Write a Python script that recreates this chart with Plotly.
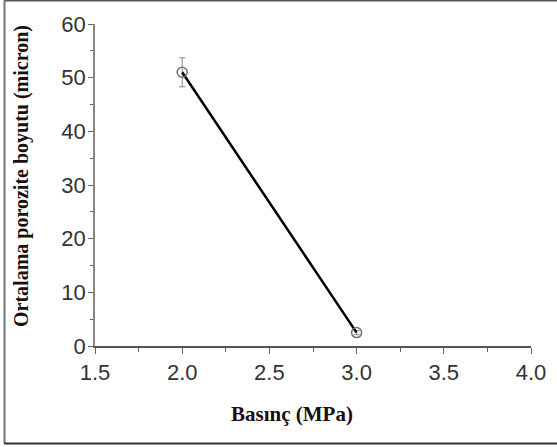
import plotly.graph_objects as go

pressure = [2.0, 3.0]
pore_size = [51.0, 2.5]
pore_err = [2.7, 0.4]
x_title = "Basınç (MPa)"
y_title = "Ortalama porozite boyutu (micron)"

W, H = 557, 447
L, R, T, B = 95, 26, 24, 101
pw, ph = W - L - R, H - T - B

def px(xp):
    return (xp - L) / pw

def py(yp):
    return (H - B - yp) / ph

fig = go.Figure()
fig.add_trace(go.Scatter(
    x=pressure, y=pore_size,
    mode="lines+markers",
    line=dict(color="black", width=2.5),
    marker=dict(symbol="circle-open", size=10, color="#6f6f6f", line=dict(width=1.5)),
    error_y=dict(type="data", array=pore_err, visible=True, color="#8a8a8a", thickness=1, width=3),
    showlegend=False,
    cliponaxis=False,
))

tickfont = dict(family="Liberation Sans, Arial, sans-serif", size=22, color="#333333")
titlefont = dict(family="Liberation Serif, Times New Roman, serif", size=20, color="#1a1010")
fig.update_layout(
    width=W, height=H,
    margin=dict(l=L, r=R, t=T, b=B),
    paper_bgcolor="white", plot_bgcolor="white",
    xaxis=dict(range=[1.5, 4.0], tickvals=[1.5, 2.0, 2.5, 3.0, 3.5, 4.0],
               ticktext=["1.5", "2.0", "2.5", "3.0", "3.5", "4.0"],
               ticks="outside", ticklen=6, tickwidth=1, tickcolor="#666",
               minor=dict(ticks="outside", dtick=0.25, ticklen=4, tickcolor="#666"),
               showgrid=False, zeroline=False, showline=True, linecolor="#555", linewidth=1.5,
               tickfont=tickfont, ticklabelstandoff=0),
    yaxis=dict(range=[0, 60], tickvals=[0, 10, 20, 30, 40, 50, 60],
               ticks="outside", ticklen=5, tickwidth=1, tickcolor="#666",
               minor=dict(ticks="outside", dtick=5, ticklen=3, tickcolor="#666"),
               showgrid=False, zeroline=False, showline=True, linecolor="#888", linewidth=1.5,
               tickfont=tickfont, ticklabelstandoff=-2),
    annotations=[
        dict(text="<b>" + x_title + "</b>", x=px(292), y=py(414), xref="paper", yref="paper",
             xanchor="center", yanchor="middle",
             showarrow=False, font=dict(titlefont, size=21)),
        dict(text="<b>" + y_title + "</b>", x=px(21), y=py(176), xref="paper", yref="paper",
             xanchor="center", yanchor="middle",
             textangle=-90, showarrow=False, font=titlefont),
    ],
    shapes=[
        dict(type="line", xref="paper", yref="paper", x0=px(4), x1=px(557), y0=py(0.5), y1=py(0.5),
             line=dict(color="#555", width=2)),
        dict(type="line", xref="paper", yref="paper", x0=px(4.5), x1=px(4.5), y0=py(0), y1=py(443.5),
             line=dict(color="#777", width=2)),
        dict(type="line", xref="paper", yref="paper", x0=px(4), x1=px(557), y0=py(443.5), y1=py(443.5),
             line=dict(color="#333", width=2)),
    ],
)

fig.write_html("out.html")
